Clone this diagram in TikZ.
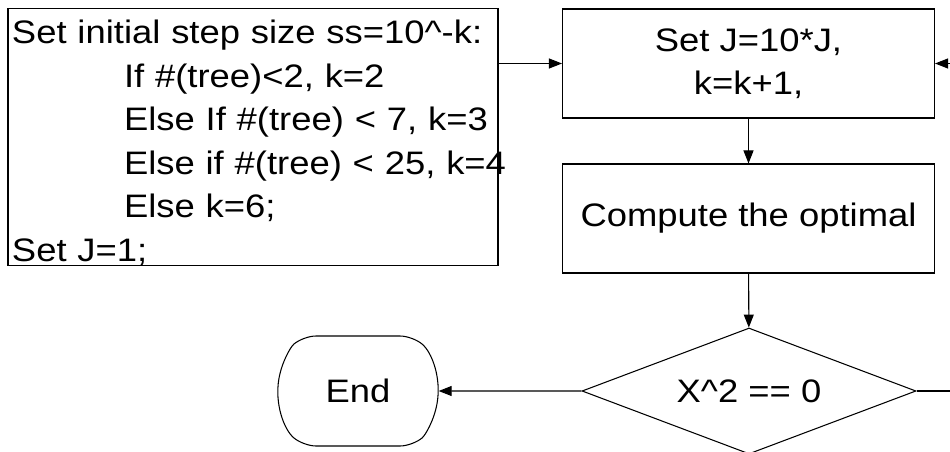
\documentclass[tikz,border=0pt]{standalone}
\usepackage{fontspec}
\setmainfont[FakeStretch=1.12]{Liberation Sans}
\usepackage{tikz}
\usetikzlibrary{shapes,arrows.meta,positioning}

\newcommand{\indentline}[1]{\hspace*{2.24cm}\makebox[7cm][l]{#1}}

\begin{document}
\begin{tikzpicture}[
    box/.style={rectangle, draw, line width=0.6pt, minimum width=7.44cm, minimum height=2.18cm, align=center, font=\fontsize{18.5}{24.5}\selectfont},
    initbox/.style={rectangle, draw, line width=0.6pt, minimum width=9.8cm, minimum height=5.12cm, text width=9.64cm, inner xsep=0.08cm, inner ysep=0cm, align=left, font=\fontsize{18.5}{24.8}\selectfont},
    decision/.style={diamond, draw, line width=0.6pt, aspect=2.65, inner sep=0pt, minimum width=6.68cm, minimum height=2.52cm, font=\fontsize{18.5}{22}\selectfont},
    terminal/.style={rounded rectangle, rounded rectangle arc length=100, rounded corners=0.25cm, draw, line width=0.6pt, minimum width=3.44cm, minimum height=2.2cm, font=\fontsize{18.5}{22}\selectfont},
    arrow/.style={-{Triangle[length=2.6mm,width=2mm]}, line width=0.6pt}
]
    \useasboundingbox (0,0) rectangle (19,-9.04);

    % Initial settings
    \node[initbox] (init) at (5.06,-2.74) {\rule{0pt}{0.7cm}Set initial step size ss=10\textasciicircum-k:\\
        \indentline{If \#(tree)<2, k=2}\\
        \indentline{Else If \#(tree) < 7, k=3}\\
        \indentline{Else if \#(tree) < 25, k=4}\\
        \indentline{Else k=6;}\\
        Set J=1;\par\vspace*{-0.1cm}};

    % Update box
    \node[box] (update) at (14.97,-1.27) {Set J=10*J,\\k=k+1,};

    % Computation
    \node[box] (compute) at (14.97,-4.37) {Compute the optimal};

    % Test
    \node[decision] (test) at (14.98,-7.82) {X\textasciicircum2 == 0};

    % End
    \node[terminal] (end) at (7.16,-7.82) {End};

    % Loop back corner
    \coordinate (loop) at (19.1,-7.82);

    % Arrows
    \draw[arrow] (init.east |- update) -- (update);
    \draw[arrow] (update) -- (compute);
    \draw[arrow] (compute) -- (test);
    \draw[arrow] (test) -- (end);
    \draw[arrow] (test.east) -- (loop) |- (update.east);
\end{tikzpicture}
\end{document}
